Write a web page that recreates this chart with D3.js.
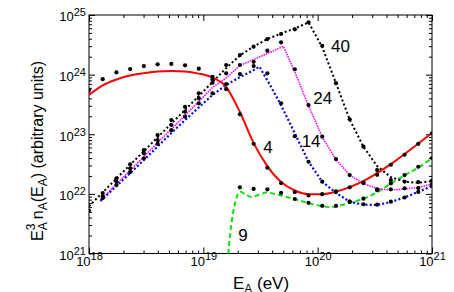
<!DOCTYPE html>
<html>
<meta charset="utf-8">
<head>
    <script src="https://d3js.org/d3.v7.min.js"></script>
</head>

<style>
  body { margin: 0; background: #fff; }
  svg text {
  font-family: Arial, "Liberation Sans", Helvetica, sans-serif;
  fill: #000;
  }
  svg .tick line { stroke: #000; stroke-width: 1; }
  svg .domain { display: none; }
  svg .dot { fill: #000; }
  svg .curve { fill: none; }
  svg .curve-label { font-size: 17px; }
</style>

<body>
<script>

var width = 454,
    height = 292;

// energy grid of the simulated points, log10(E / eV)
var gridExp = [18.00, 18.12, 18.24, 18.36, 18.48, 18.60, 18.72, 18.84, 18.96, 19.08, 19.20, 19.32, 19.44,
               19.56, 19.68, 19.80, 19.92, 20.04, 20.16, 20.28, 20.40, 20.52, 20.64, 20.76, 20.88, 21.00];

// simulated points (black dots), one per grid energy, null = none
var dots4  = [5.5e23, 8.4e23, 1.09e24, 1.24e24, 1.39e24, 1.49e24, 1.51e24, 1.43e24, 1.26e24, 8.3e23, 5.7e23, 2.16e23, 6.9e22,
              2.74e22, 1.52e22, 1.07e22, 9.4e21, 9.9e21, 1.10e22, 1.29e22, 1.56e22, 2.09e22, 3.08e22, 4.53e22, 6.9e22, 1.04e23];
var dots9  = [null, null, null, null, null, null, null, null, null, null, null, 1.29e22, 1.21e22,
              1.19e22, 1.04e22, 8.2e21, 7.1e21, 6.3e21, 6.3e21, 7.4e21, 8.3e21, 1.15e22, 1.50e22, 2.07e22, 2.85e22, 4.0e22];
var dots14 = [null, 8.5e21, 1.41e22, 2.32e22, 3.94e22, 6.9e22, 1.17e23, 1.97e23, 3.30e23, 4.85e23, 6.95e23, 1.02e24, 1.39e24,
              1.05e24, 3.30e23, 9.3e22, 3.46e22, 1.60e22, 1.07e22, 7.4e21, 6.7e21, 6.6e21, 7.4e21, 8.7e21, 1.08e22, 1.37e22];
var dots24 = [null, 9.2e21, 1.60e22, 2.68e22, 4.79e22, 8.0e22, 1.43e23, 2.39e23, 4.0e23, 7.3e23, 1.05e24, 1.45e24, 1.64e24,
              2.52e24, 3.48e24, 1.23e24, 3.09e23, 9.1e22, 3.84e22, 2.07e22, 1.52e22, 1.19e22, 1.19e22, 1.24e22, 1.25e22, 1.46e22];
var dots40 = [5.2e21, 1.03e22, 1.82e22, 3.13e22, 5.4e22, 9.7e22, 1.73e23, 2.89e23, 4.85e23, 9.2e23, 1.45e24, 2.13e24, 2.94e24,
              3.95e24, 4.80e24, 5.75e24, 7.55e24, 3.05e24, 7.2e23, 1.78e23, 6.2e22, 2.51e22, 1.71e22, 1.61e22, 1.58e22, 1.67e22];

// model curves
var line4  = [4.55e23, 6.6e23, 8.3e23, 9.7e23, 1.06e24, 1.13e24, 1.15e24, 1.13e24, 1.04e24, 8.9e23, 6.2e23, 2.36e23, 7.1e22,
              2.92e22, 1.58e22, 1.14e22, 9.9e21, 9.9e21, 1.09e22, 1.30e22, 1.64e22, 2.23e22, 3.16e22, 4.66e22, 6.98e22, 1.05e23];
var line40 = [6.2e21, 1.06e22, 1.81e22, 3.07e22, 5.2e22, 8.9e22, 1.51e23, 2.56e23, 4.38e23, 7.5e23, 1.29e24, 2.09e24, 2.96e24,
              3.95e24, 4.90e24, 5.93e24, 7.5e24, 2.90e24, 7.2e23, 1.77e23, 6.2e22, 2.92e22, 1.91e22, 1.61e22, 1.53e22, 1.64e22];

var line24Exp = [18.10, 18.24, 18.36, 18.48, 18.60, 18.72, 18.84, 18.96, 19.08, 19.20, 19.32, 19.44, 19.56,
                 19.70, 19.80, 19.92, 20.04, 20.16, 20.28, 20.40, 20.52, 20.64, 20.76, 20.88, 21.00];
var line24    = [7.8e21, 1.46e22, 2.48e22, 4.2e22, 7.2e22, 1.22e23, 2.07e23, 3.54e23, 6.1e23, 8.8e23, 1.42e24, 1.79e24, 2.26e24,
                 2.98e24, 1.11e24, 3.03e23, 8.97e22, 3.77e22, 2.07e22, 1.49e22, 1.23e22, 1.16e22, 1.21e22, 1.28e22, 1.46e22];

var line14Exp = [18.10, 18.24, 18.36, 18.48, 18.60, 18.72, 18.84, 18.96, 19.08, 19.20, 19.32, 19.44, 19.491,
                 19.583, 19.671, 19.758, 19.92, 20.04, 20.16, 20.28, 20.40, 20.52, 20.64, 20.76, 20.88, 21.00];
var line14    = [7.6e21, 1.35e22, 2.23e22, 3.69e22, 6.2e22, 1.05e23, 1.73e23, 2.81e23, 4.55e23, 6.7e23, 9.1e23, 1.19e24, 1.36e24,
                 6.7e23, 3.30e23, 1.52e23, 3.46e22, 1.60e22, 1.04e22, 7.4e21, 6.6e21, 6.5e21, 7.3e21, 8.7e21, 1.08e22, 1.35e22];

var line9Exp = [19.214, 19.229, 19.248, 19.277, 19.303, 19.325, 19.364, 19.423, 19.487, 19.554, 19.671, 19.802,
                19.933, 20.038, 20.108, 20.167, 20.283, 20.399, 20.516, 20.633, 20.764, 20.880, 21.00];
var line9    = [7.2e20, 1.68e21, 3.37e21, 6.9e21, 9.9e21, 1.09e22, 9.9e21, 8.9e21, 9.7e21, 1.05e22, 9.5e21, 8.1e21,
                6.9e21, 6.2e21, 6.0e21, 6.2e21, 7.1e21, 8.3e21, 1.05e22, 1.46e22, 2.07e22, 2.74e22, 4.0e22];

// curve labels: text, log10(E) of left edge, value at baseline
var labelText = ["40", "24", "14", "4", "9"];
var labelExp  = [20.117, 19.962, 19.860, 19.525, 19.306];
var labelVal  = [2.37e24, 3.2e23, 6.2e22, 4.8e22, 1.6e21];

var xTicks = [1e18, 1e19, 1e20, 1e21],
    yTicks = [1e21, 1e22, 1e23, 1e24, 1e25];

var x0 = 89, x1 = 432, y0 = 253.5, y1 = 15;

var svg = d3.select("body").append("svg")
    .attr("width", width)
    .attr("height", height);

var x = d3.scaleLog().domain([1e18, 1e21]).range([x0, x1]);
var y = d3.scaleLog().domain([1e21, 1e25]).range([y0, y1]);

var xMinor = x.ticks().filter(function(d) { return xTicks.indexOf(d) < 0; });
var yMinor = y.ticks().filter(function(d) { return yTicks.indexOf(d) < 0; });

svg.append("clipPath").attr("id", "plot")
  .append("rect").attr("x", x0).attr("y", y1).attr("width", x1 - x0).attr("height", y0 - y1);

function powerLabel(g, dy) {
    g.attr("font-size", null).attr("font-family", null);
    g.selectAll(".tick text").each(function(d) {
        var t = d3.select(this);
        t.attr("font-size", 13).text("10");
        t.append("tspan").attr("dy", dy).attr("font-size", 11).text(Math.round(Math.log10(d)));
    });
}

// ticks, all pointing inward
svg.append("g").attr("transform", "translate(0," + y0 + ")")
    .call(d3.axisBottom(x).tickValues(xTicks).tickSize(-6).tickPadding(3))
    .call(powerLabel, -6);
svg.append("g").attr("transform", "translate(0," + y0 + ")")
    .call(d3.axisBottom(x).tickValues(xMinor).tickSize(-3).tickFormat(""));
svg.append("g").attr("transform", "translate(0," + y1 + ")")
    .call(d3.axisTop(x).tickValues(xTicks).tickSize(-6).tickFormat(""));
svg.append("g").attr("transform", "translate(0," + y1 + ")")
    .call(d3.axisTop(x).tickValues(xMinor).tickSize(-3).tickFormat(""));

var yAxis = svg.append("g").attr("transform", "translate(" + x0 + ",0)")
    .call(d3.axisLeft(y).tickValues(yTicks).tickSize(-6).tickPadding(3))
    .call(powerLabel, -5);
yAxis.selectAll(".tick text").attr("dy", "0.45em");
svg.append("g").attr("transform", "translate(" + x0 + ",0)")
    .call(d3.axisLeft(y).tickValues(yMinor).tickSize(-3).tickFormat(""));
svg.append("g").attr("transform", "translate(" + x1 + ",0)")
    .call(d3.axisRight(y).tickValues(yTicks).tickSize(-6).tickFormat(""));
svg.append("g").attr("transform", "translate(" + x1 + ",0)")
    .call(d3.axisRight(y).tickValues(yMinor).tickSize(-3).tickFormat(""));

svg.append("rect")
    .attr("x", x0).attr("y", y1)
    .attr("width", x1 - x0).attr("height", y0 - y1)
    .attr("fill", "none").attr("stroke", "#000").attr("stroke-width", 1);

// curves
var curves = svg.append("g").attr("clip-path", "url(#plot)");

function pairs(exps, vals) {
    return exps.map(function(e, i) { return [Math.pow(10, e), vals[i]]; });
}

var smooth = d3.line().x(function(d) { return x(d[0]); }).y(function(d) { return y(d[1]); })
    .curve(d3.curveMonotoneX);
var straight = d3.line().x(function(d) { return x(d[0]); }).y(function(d) { return y(d[1]); });

var series = [
    {data: pairs(line9Exp, line9),   gen: smooth,   color: "#11dd11", w: 2,   dash: "5,3"},
    {data: pairs(gridExp, line40),   gen: straight, color: "#000",    w: 2,   dash: "2,2.4"},
    {data: pairs(line24Exp, line24), gen: straight, color: "#ff00ff", w: 1.6, dash: "1.5,1"},
    {data: pairs(line14Exp, line14), gen: straight, color: "#0000ff", w: 2.2, dash: "2,2.2"},
    {data: pairs(gridExp, line4),    gen: smooth,   color: "#ff0000", w: 2,   dash: null}
];

series.forEach(function(s) {
    curves.append("path")
        .attr("class", "curve")
        .attr("d", s.gen(s.data))
        .attr("stroke", s.color)
        .attr("stroke-width", s.w)
        .attr("stroke-dasharray", s.dash);
});

// simulated points
var dots = svg.append("g").attr("clip-path", "url(#plot)");
[dots4, dots9, dots14, dots24, dots40].forEach(function(vals) {
    dots.selectAll(null)
        .data(pairs(gridExp, vals).filter(function(d) { return d[1] != null; }))
        .enter().append("circle")
        .attr("class", "dot")
        .attr("cx", function(d) { return x(d[0]); })
        .attr("cy", function(d) { return y(d[1]); })
        .attr("r", 2.1);
});

// curve labels
svg.selectAll(".curve-label")
    .data(labelText)
    .enter().append("text")
    .attr("class", "curve-label")
    .attr("x", function(d, i) { return x(Math.pow(10, labelExp[i])); })
    .attr("y", function(d, i) { return y(labelVal[i]); })
    .text(function(d) { return d; });

// axis titles
var xt = svg.append("text")
    .attr("x", 261).attr("y", 288.5)
    .attr("text-anchor", "middle")
    .attr("font-size", 17);
xt.append("tspan").text("E");
xt.append("tspan").attr("font-size", 12).attr("dy", 4).text("A");
xt.append("tspan").attr("dy", -4).text(" (eV)");

var yt = svg.append("text")
    .attr("transform", "translate(43,241) rotate(-90)")
    .attr("font-size", 16);
yt.append("tspan").text("E");
yt.append("tspan").attr("font-size", 12).attr("dy", 4).text("A");
yt.append("tspan").attr("font-size", 12).attr("dx", -8).attr("dy", -12).text("3");
yt.append("tspan").attr("dy", 8).text(" n");
yt.append("tspan").attr("font-size", 12).attr("dy", 4).text("A");
yt.append("tspan").attr("dy", -4).text("(E");
yt.append("tspan").attr("font-size", 12).attr("dy", 4).text("A");
yt.append("tspan").attr("dy", -4).text(") (arbitrary units)");

</script>
</body>
</html>
